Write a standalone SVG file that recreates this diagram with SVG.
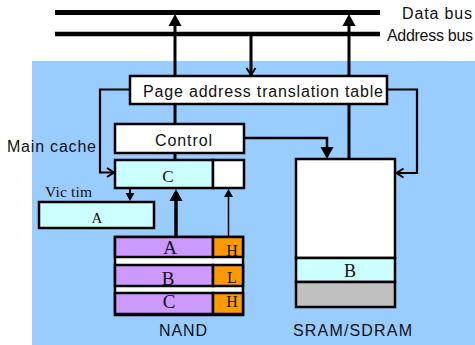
<svg xmlns="http://www.w3.org/2000/svg" width="475" height="345" viewBox="0 0 475 345">
<style>
.box{stroke:#000;stroke-width:2.5}
.w{fill:#fff}.cy{fill:#ccffff}.pu{fill:#cc99ff}.or{fill:#ff9900}.gr{fill:#c0c0c0}
.sans{font-family:"Liberation Sans",Arial,sans-serif;font-size:16px;fill:#111}
.serif{font-family:"Liberation Serif","Times New Roman",serif;fill:#111}
.ln{stroke:#000;fill:none}
</style>
<defs>
<marker id="big" markerUnits="userSpaceOnUse" markerWidth="13" markerHeight="14" refX="0" refY="7" orient="auto" overflow="visible">
<path d="M0,0.5 L12,7 L0,13.5 z" fill="#000"/>
</marker>
<marker id="small" markerUnits="userSpaceOnUse" markerWidth="9" markerHeight="10" refX="0" refY="5" orient="auto" overflow="visible">
<path d="M0,0.5 L8,5 L0,9.5 z" fill="#000"/>
</marker>
<marker id="chev" markerUnits="userSpaceOnUse" markerWidth="10" markerHeight="12" refX="8" refY="5" orient="auto" overflow="visible">
<path d="M1,0.5 L8,5 L1,9.5" fill="none" stroke="#000" stroke-width="2"/>
</marker>
</defs>

<rect x="32" y="61" width="443" height="284" fill="#99ccff"/>

<g id="buses">
<line x1="55" y1="12.5" x2="380" y2="12.5" stroke="#000" stroke-width="5"/>
<line x1="55" y1="34" x2="380" y2="34" stroke="#000" stroke-width="4.5"/>
<text class="sans" x="402" y="19" textLength="70">Data bus</text>
<text class="sans" x="387" y="41" textLength="86">Address bus</text>
</g>

<g id="connectors">
<line class="ln" x1="175" y1="160" x2="175" y2="26" stroke-width="3" marker-end="url(#big)"/>
<line class="ln" x1="349" y1="159" x2="349" y2="26" stroke-width="3" marker-end="url(#big)"/>
<line class="ln" x1="251" y1="36" x2="251" y2="75" stroke-width="3" marker-end="url(#chev)"/>
<polyline class="ln" points="130,89.5 100,89.5 100,172.5 114,172.5" stroke-width="2.2" marker-end="url(#chev)"/>
<polyline class="ln" points="387,89.5 417,89.5 417,173 396.5,173" stroke-width="2.2" marker-end="url(#chev)"/>
<polyline class="ln" points="244,138 327,138 327,147" stroke-width="2.5" marker-end="url(#big)"/>
<line class="ln" x1="130" y1="189" x2="130" y2="193" stroke-width="2" marker-end="url(#small)"/>
<line class="ln" x1="176" y1="237" x2="176" y2="201" stroke-width="3.5" marker-end="url(#big)"/>
<line class="ln" x1="228.5" y1="237" x2="228.5" y2="197" stroke-width="1.5" marker-end="url(#small)"/>
</g>

<g id="pat">
<rect class="box w" x="130" y="76" width="257" height="28"/>
<text class="sans" x="143" y="97" textLength="240">Page address translation table</text>
</g>

<g id="control">
<rect class="box w" x="115" y="124" width="129" height="29"/>
<text class="sans" x="155" y="145.5" textLength="57">Control</text>
</g>

<g id="main-cache">
<text class="sans" x="7" y="152" textLength="89">Main cache</text>
<rect class="box cy" x="115" y="160" width="98" height="28"/>
<rect class="box w" x="213" y="160" width="31" height="28"/>
<text class="serif" x="168" y="182" font-size="17" text-anchor="middle">C</text>
</g>

<g id="victim">
<text class="serif" x="45" y="197" font-size="15.5" textLength="47">Vic tim</text>
<rect class="box cy" x="39" y="202" width="115" height="26"/>
<text class="serif" x="97" y="223" font-size="15" text-anchor="middle">A</text>
</g>

<g id="nand">
<rect class="box w" x="115" y="237" width="128" height="78"/>
<rect class="box pu" x="115" y="237" width="98" height="20"/>
<rect class="box or" x="213" y="237" width="30" height="20"/>
<rect class="box pu" x="115" y="265" width="98" height="21"/>
<rect class="box or" x="213" y="265" width="30" height="21"/>
<rect class="box pu" x="115" y="293" width="98" height="21"/>
<rect class="box or" x="213" y="293" width="30" height="21"/>
<text class="serif" x="170" y="254" font-size="19" text-anchor="middle">A</text>
<text class="serif" x="168" y="284.5" font-size="19" text-anchor="middle">B</text>
<text class="serif" x="169" y="308" font-size="19" text-anchor="middle">C</text>
<text class="serif" x="232" y="256" font-size="16" text-anchor="middle">H</text>
<text class="serif" x="232" y="283" font-size="16" text-anchor="middle">L</text>
<text class="serif" x="232" y="307" font-size="16" text-anchor="middle">H</text>
<text class="sans" x="159" y="336" textLength="48">NAND</text>
</g>

<g id="sram">
<rect class="box w" x="296" y="159" width="99" height="99"/>
<rect class="box cy" x="296" y="258" width="99" height="24"/>
<rect class="box gr" x="296" y="282" width="99" height="25"/>
<text class="serif" x="350" y="277" font-size="18" text-anchor="middle">B</text>
<text class="sans" x="293" y="336" textLength="119">SRAM/SDRAM</text>
</g>
</svg>
